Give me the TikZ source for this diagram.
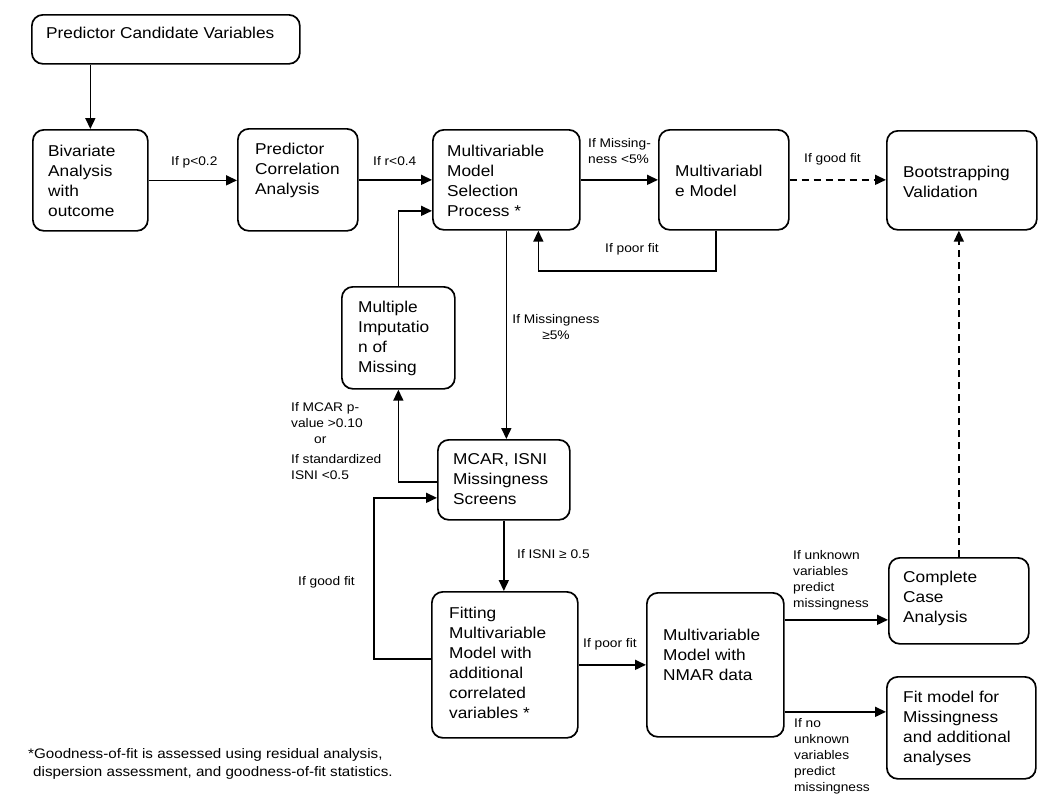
\documentclass[tikz,border=0pt]{standalone}
\usepackage{fontspec}
\setmainfont{Liberation Sans}[FakeStretch=1.1]
\usetikzlibrary{arrows.meta,calc}
\newcommand\bfnt{\fontsize{15.7pt}{20pt}\selectfont}
\newcommand\lfnt{\fontsize{12.5pt}{16pt}\selectfont}
\newcommand\ffnt{\fontsize{13.8pt}{18pt}\selectfont}
\newcommand\btx[1]{\parbox[t]{300pt}{\bfnt\raggedright #1}}
\newcommand\ltx[1]{\parbox[t]{150pt}{\lfnt\raggedright #1}}
\begin{document}
\begin{tikzpicture}[x=1pt,y=-1pt,
  box/.style={draw, line width=1.7pt, rounded corners=11pt, inner sep=0pt, anchor=north west},
  txt/.style={inner sep=0pt, anchor=base west},
  arr/.style={line width=1.6pt, -{Triangle[length=11pt,width=10pt]}},
  dsh/.style={arr, dash pattern=on 7pt off 5pt}]
\useasboundingbox (0,0) rectangle (1050,806);
% boxes
\node[box, minimum width=268pt, minimum height=49pt] (A) at (31,14) {};
\node[box, minimum width=115pt, minimum height=101pt] (B) at (32,129) {};
\node[box, minimum width=120pt, minimum height=102pt] (C) at (237,128) {};
\node[box, minimum width=147pt, minimum height=100pt] (D) at (432,129) {};
\node[box, minimum width=130pt, minimum height=100pt] (E) at (658,129) {};
\node[box, minimum width=150pt, minimum height=99pt] (F) at (886,130) {};
\node[box, minimum width=113pt, minimum height=102pt] (G) at (341,286) {};
\node[box, minimum width=132pt, minimum height=80pt] (H) at (437,439) {};
\node[box, minimum width=146pt, minimum height=146pt] (I) at (431,591) {};
\node[box, minimum width=137pt, minimum height=144pt] (J) at (646,592) {};
\node[box, minimum width=140pt, minimum height=86pt] (K) at (888,557) {};
\node[box, minimum width=149pt, minimum height=102pt] (L) at (886,676) {};
% box texts
\node[txt] (At) at (46,38.5) {\btx{Predictor Candidate Variables}};
\node[txt] (Bt) at (48,156.5) {\btx{Bivariate\\Analysis\\with\\outcome}};
\node[txt] (Ct) at (255,154.5) {\btx{Predictor\\Correlation\\Analysis}};
\node[txt] (Dt) at (447,156.5) {\btx{Multivariable\\Model\\Selection\\Process *}};
\node[txt] (Et) at (675,176.5) {\btx{Multivariabl\\e Model}};
\node[txt] (Ft) at (903,177.5) {\btx{Bootstrapping\\Validation}};
\node[txt] (Gt) at (358,312.5) {\btx{Multiple\\Imputatio\\n of\\Missing}};
\node[txt] (Ht) at (453,464.5) {\btx{MCAR, ISNI\\Missingness\\Screens}};
\node[txt] (It) at (449,618.5) {\btx{Fitting\\Multivariable\\Model with\\additional\\correlated\\variables *}};
\node[txt] (Jt) at (663,640.5) {\btx{Multivariable\\Model with\\NMAR data}};
\node[txt] (Kt) at (903,582.5) {\btx{Complete\\Case\\Analysis}};
\node[txt] (Lt) at (903,702.5) {\btx{Fit model for\\Missingness\\and additional\\analyses}};
% connectors
\draw[arr] (A.south -| B.north) -- (B.north);
\draw[arr] (B.east) -- (B.east -| C.west);
\draw[arr] (C.east) -- (C.east -| D.west);
\draw[arr] (D.east) -- (D.east -| E.west);
\draw[dsh] (E.east) -- (E.east -| F.west);
\draw[arr] ([xshift=-8pt]E.south) -- ++(0,40) -| ([xshift=32pt]D.south);
\draw[arr] (D.south) -- (D.south |- H.north);
\draw[arr] ([yshift=-2pt]H.west) -| (G.south);
\draw[arr] (G.north) |- ([yshift=-31pt]D.west);
\draw[arr] (H.south) -- (H.south |- I.north);
\draw[arr] ([yshift=6pt]I.west) -- ++(-57,0) |- ([yshift=-18pt]H.west);
\draw[arr] (I.east) -- (I.east -| J.west);
\draw[arr] ([yshift=45pt]J.east) -- ([yshift=45pt]J.east -| K.west);
\draw[arr] ([yshift=-47pt]J.east) -- ([yshift=-47pt]J.east -| L.west);
\draw[dsh] (K.north) -- (K.north |- F.south);
% labels
\node[txt] (l1) at (171,165.5) {\ltx{If p<0.2}};
\node[txt] (l2) at (373,165.5) {\ltx{If r<0.4}};
\node[txt] (l3) at (588,147.5) {\ltx{If Missing-\\ness <5\%}};
\node[txt] (l4) at (804,162.5) {\ltx{If good fit}};
\node[txt] (l5) at (605,252.5) {\ltx{If poor fit}};
\node[inner sep=0pt, anchor=base] (l6) at (556,323.5) {\parbox[t]{120pt}{\lfnt\centering If Missingness\\≥5\%\par}};
\node[txt] (l7) at (291,411.5) {\ltx{If MCAR p-\\value >0.10\\\hspace*{23pt}or\\[4pt]If standardized\\ISNI <0.5}};
\node[txt] (l8) at (298,585.5) {\ltx{If good fit}};
\node[txt] (l9) at (517,558.5) {\ltx{If ISNI ≥ 0.5}};
\node[txt] (l10) at (583,647.5) {\ltx{If poor fit}};
\node[txt] (l11) at (793,559.5) {\ltx{If unknown\\variables\\predict\\missingness}};
\node[txt] (l12) at (794,727.5) {\ltx{If no\\unknown\\variables\\predict\\missingness}};
\node[txt] (fn) at (28,758) {\parbox[t]{500pt}{\ffnt\raggedright *Goodness-of-fit is assessed using residual analysis,\\\hspace*{5pt}dispersion assessment, and goodness-of-fit statistics.}};
\end{tikzpicture}
\end{document}
